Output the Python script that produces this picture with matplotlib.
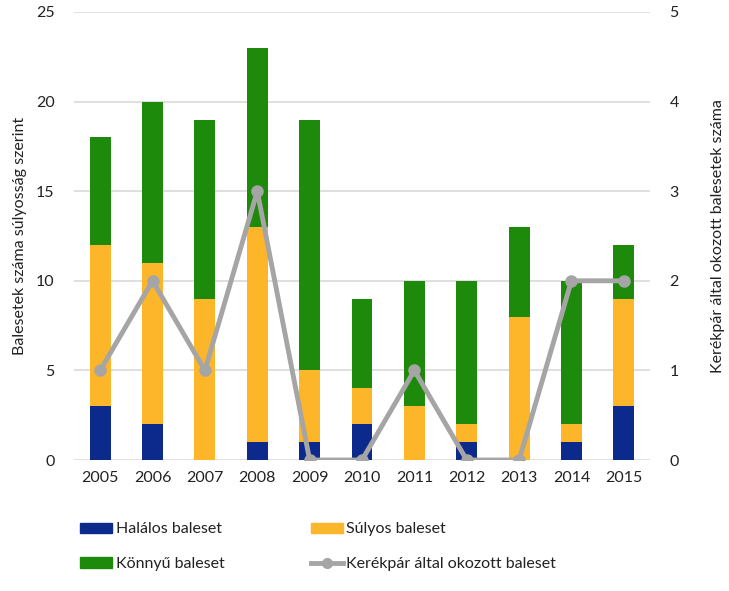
import matplotlib
matplotlib.use("Agg")
import matplotlib.pyplot as plt
import numpy as np
from matplotlib.patches import Patch
from matplotlib.lines import Line2D

plt.rcParams['font.family'] = ['Lato', 'DejaVu Sans']

years = ['2005', '2006', '2007', '2008', '2009', '2010', '2011', '2012', '2013', '2014', '2015']
halalos = [3, 2, 0, 1, 1, 2, 0, 1, 0, 1, 3]
sulyos = [9, 9, 9, 12, 4, 2, 3, 1, 8, 1, 6]
konnyu = [6, 9, 10, 10, 14, 5, 7, 8, 5, 8, 3]
kerekpar = [1, 2, 1, 3, 0, 0, 1, 0, 0, 2, 2]

c_hal = '#0B2A8C'
c_sul = '#FDB52A'
c_kon = '#1E8A0C'
c_ker = '#A5A5A5'
txt = '#222222'

fig = plt.figure(figsize=(7.29, 5.91), dpi=100)
ax = fig.add_axes([74/729, 1-460/591, 576/729, 448/591])
x = np.arange(len(years))
w = 0.4
h = np.array(halalos); s = np.array(sulyos); k = np.array(konnyu)
ax.bar(x, h, w, color=c_hal, zorder=2)
ax.bar(x, s, w, bottom=h, color=c_sul, zorder=2)
ax.bar(x, k, w, bottom=h+s, color=c_kon, zorder=2)
ax.set_xlim(-0.5, len(years)-0.5)
ax.set_ylim(0, 25)
ax.set_yticks([0, 5, 10, 15, 20, 25])
ax.set_xticks(x)
ax.set_xticklabels(years)
ax.grid(axis='y', color='#D9D9D9', linewidth=1.2, zorder=0)
ax.set_axisbelow(True)
for sp in ax.spines.values():
    sp.set_visible(False)
ax.tick_params(length=0, labelsize=11.5, colors=txt, pad=8)
ax.tick_params(axis='y', pad=14)
ax.set_ylabel('Balesetek száma súlyosság szerint', fontsize=11.5, color=txt, labelpad=6)

ax2 = ax.twinx()
ax2.plot(x, kerekpar, color=c_ker, linewidth=3.5, marker='o', markersize=8, zorder=3)
ax2.set_ylim(0, 5)
ax2.set_yticks([0, 1, 2, 3, 4, 5])
for sp in ax2.spines.values():
    sp.set_visible(False)
ax2.tick_params(length=0, labelsize=11.5, colors=txt, pad=14)
ax2.set_ylabel('Kerékpár által okozott balesetek száma', fontsize=11.5, color=txt, labelpad=23)

handles = [Patch(color=c_hal), Patch(color=c_kon), Patch(color=c_sul),
           Line2D([], [], color=c_ker, linewidth=3.5, marker='o', markersize=7)]
labels = ['Halálos baleset', 'Könnyű baleset', 'Súlyos baleset', 'Kerékpár által okozott baleset']
fig.legend(handles, labels, ncol=2, loc='upper left', bbox_to_anchor=(66/729, 1-508/591),
           frameon=False, fontsize=11.5, columnspacing=5.45, handlelength=2.0, handleheight=0.6,
           handletextpad=0.2, labelspacing=1.3, labelcolor=txt)

fig.savefig('out.png', dpi=100)
